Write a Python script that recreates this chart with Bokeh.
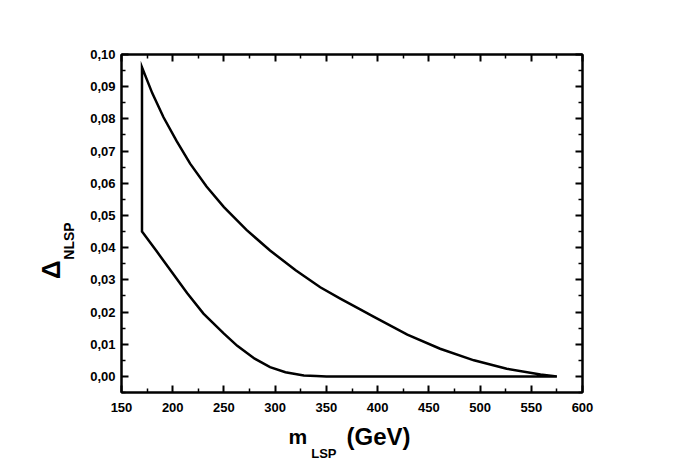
from bokeh.plotting import figure
from bokeh.models import LinearAxis, FixedTicker, Range1d
from bokeh.layouts import row, column
from bokeh.core.properties import value
from bokeh.embed import file_html
from bokeh.resources import INLINE
import math

# Upper boundary of the allowed region (m_LSP in GeV, Delta_NLSP)
upper_x = [170, 180, 191, 204, 217, 233, 250, 272, 295, 320, 344, 364, 383, 396, 429, 461, 494, 526, 559, 575]
upper_y = [0.096, 0.088, 0.0805, 0.073, 0.0661, 0.059, 0.0526, 0.0455, 0.0391, 0.0330, 0.0277,
           0.0241, 0.0208, 0.0186, 0.0130, 0.0086, 0.0050, 0.0024, 0.0006, 0.0]

# Lower boundary of the allowed region
lower_x = [170, 184, 198, 214, 230, 250, 263, 280, 295, 310, 328, 340, 350, 360, 575]
lower_y = [0.045, 0.039, 0.0329, 0.0259, 0.0195, 0.0133, 0.0095, 0.0055, 0.0029, 0.0013, 0.0003, 0.0001, 0.0, 0.0, 0.0]

x_ticks = [150, 200, 250, 300, 350, 400, 450, 500, 550, 600]
x_minor = [175, 225, 275, 325, 375, 425, 475, 525, 575]
y_ticks = [0.00, 0.01, 0.02, 0.03, 0.04, 0.05, 0.06, 0.07, 0.08, 0.09, 0.10]
y_tick_labels = ["0,00", "0,01", "0,02", "0,03", "0,04", "0,05", "0,06", "0,07", "0,08", "0,09", "0,10"]
y_minor = [-0.005, 0.005, 0.015, 0.025, 0.035, 0.045, 0.055, 0.065, 0.075, 0.085, 0.095]

FONT = "Liberation Sans"

# ---------------- main plot ----------------
p = figure(width=598, height=420, x_range=Range1d(150, 600), y_range=Range1d(-0.005, 0.10),
           output_backend="svg", toolbar_location=None,
           min_border_left=41, min_border_right=96, min_border_top=54, min_border_bottom=28)
p.xgrid.visible = False
p.ygrid.visible = False
p.outline_line_color = "black"
p.outline_line_width = 2
p.background_fill_color = "white"
p.border_fill_color = "white"

xt = FixedTicker(ticks=x_ticks, minor_ticks=x_minor)
yt = FixedTicker(ticks=y_ticks, minor_ticks=y_minor)


def style(ax, show_labels=True):
    ax.axis_line_width = 2
    ax.axis_line_color = "black"
    ax.major_tick_line_width = 2
    ax.minor_tick_line_width = 1.5
    ax.major_tick_in = 7
    ax.major_tick_out = 0
    ax.minor_tick_in = 4
    ax.minor_tick_out = 0
    ax.major_label_text_font = FONT
    ax.major_label_text_font_style = "bold"
    ax.major_label_text_font_size = "13px"
    ax.major_label_text_color = "black" if show_labels else None


xa = p.xaxis[0]
xa.ticker = xt
style(xa)
xa.major_label_standoff = 10

ya = p.yaxis[0]
ya.ticker = yt
ya.major_label_overrides = {v: s for v, s in zip(y_ticks, y_tick_labels)}
style(ya)
ya.major_label_standoff = 6

top = LinearAxis(ticker=xt)
style(top, False)
top.major_label_standoff = 0
p.add_layout(top, "above")

right = LinearAxis(ticker=yt)
style(right, False)
right.major_label_standoff = 0
p.add_layout(right, "right")

bx = lower_x + upper_x[::-1]
by = lower_y + upper_y[::-1]
p.patch(bx, by, fill_color=None, line_color="black", line_width=2.5, line_join="miter")


# ---------------- axis-title strips (pixel coordinates) ----------------
def strip(w, h):
    f = figure(width=w, height=h, x_range=Range1d(0, w), y_range=Range1d(0, h),
               output_backend="svg", toolbar_location=None,
               x_axis_location=None, y_axis_location=None, min_border=0)
    f.xgrid.visible = False
    f.ygrid.visible = False
    f.outline_line_color = None
    f.background_fill_color = "white"
    f.border_fill_color = "white"
    return f


def txt(f, x, y, s, size, angle=0.0):
    f.text(x=[x], y=[y], text=[s], angle=angle, text_font=value(FONT), text_font_style="bold",
           text_font_size=size, text_align="left", text_baseline="alphabetic", text_color="black")


left = strip(80, 420)
txt(left, 50, 141, "\u0394", "26px", math.pi / 2)
txt(left, 68, 165, "NLSP", "14px", math.pi / 2)

bottom = strip(678, 51)
txt(bottom, 288, 35, "m", "21px")
txt(bottom, 310.7, 18, "LSP", "13px")
txt(bottom, 346, 35, "(GeV)", "24px")

layout = column(row(left, p, spacing=0), bottom, spacing=0)

open("out.html", "w").write(file_html(layout, INLINE))
